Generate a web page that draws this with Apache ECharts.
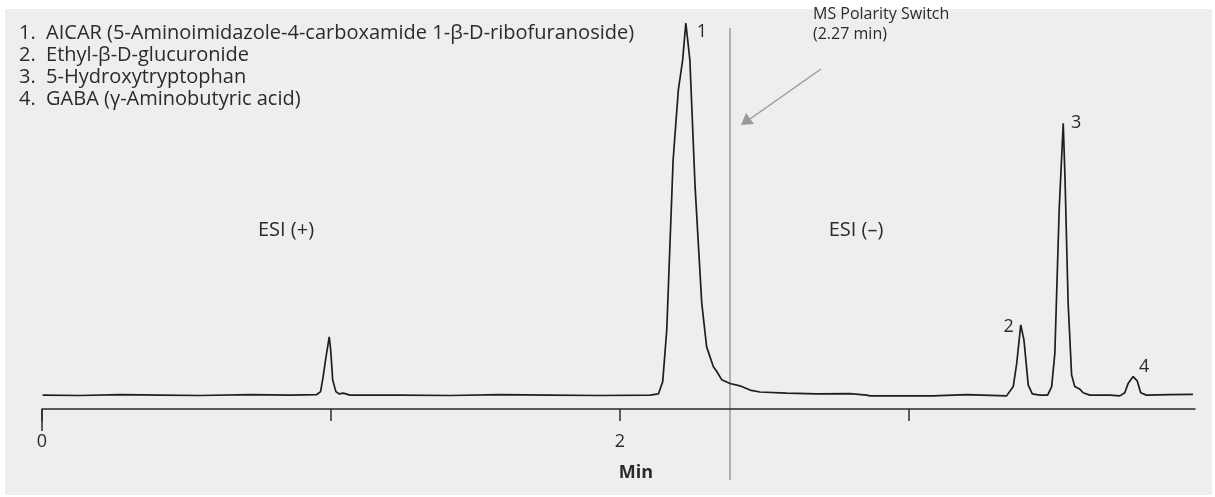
<!DOCTYPE html>
<html>
<head>
<meta charset="utf-8">
<script src="https://cdn.jsdelivr.net/npm/echarts@6/dist/echarts.min.js"></script>
<style>
  html, body { margin: 0; padding: 0; background: #fff; }
  #chart { width: 1215px; height: 497px; }
</style>
</head>
<body>
<div id="chart"></div>
<script>
// retention time (min) and relative signal (%)
var times = [0.002, 0.131, 0.270, 0.408, 0.547, 0.720, 0.858, 0.950, 0.964, 0.973, 0.982, 0.994, 0.999, 1.006, 1.017, 1.029, 1.043, 1.066,
  1.239, 1.412, 1.585, 1.758, 1.931, 2.104, 2.133, 2.148, 2.162, 2.184, 2.202, 2.217, 2.228, 2.242, 2.260, 2.283, 2.300, 2.323, 2.335, 2.352,
  2.381, 2.415, 2.450, 2.484, 2.577, 2.681, 2.796, 2.854, 2.865, 3.083, 3.200, 3.338, 3.361, 3.373, 3.387, 3.398, 3.413, 3.427, 3.453,
  3.480, 3.494, 3.505, 3.520, 3.534, 3.540, 3.551, 3.563, 3.574, 3.592, 3.603, 3.626, 3.696, 3.730, 3.747, 3.759, 3.776, 3.790, 3.802,
  3.822, 3.903, 3.983];
var signal = [3.6, 3.5, 3.7, 3.6, 3.5, 3.7, 3.6, 3.7, 4.5, 8.4, 13.1, 18.7, 15.3, 7.5, 4.5, 3.9, 4.1, 3.6,
  3.6, 3.5, 3.7, 3.6, 3.5, 3.6, 3.9, 7.1, 20.5, 64.5, 82.6, 90.4, 100, 90.4, 57.6, 27.5, 16.1, 11.0, 9.7, 7.6,
  6.6, 6.0, 4.9, 4.4, 4.1, 3.9, 4.0, 3.6, 3.4, 3.4, 3.7, 3.4, 5.8, 11.8, 21.8, 17.9, 6.2, 3.9, 3.6,
  3.6, 5.8, 14.4, 51.6, 74.0, 60.2, 27.4, 8.8, 5.8, 5.1, 4.2, 3.6, 3.6, 3.4, 4.2, 6.7, 8.4, 7.3, 4.2,
  3.6, 3.7, 3.8];
var tickValues = [0, 1, 2, 3];
var labelValues = [0, 2];
var peakNames = ['1', '2', '3', '4'];
var peakTimes = [2.228, 3.387, 3.534, 3.776];
var peakHeights = [100, 21.8, 74.0, 8.4];
var compounds = [
  '1.  AICAR (5-Aminoimidazole-4-carboxamide 1-\u03b2-D-ribofuranoside)',
  '2.  Ethyl-\u03b2-D-glucuronide',
  '3.  5-Hydroxytryptophan',
  '4.  GABA (\u03b3-Aminobutyric acid)'
];
var switchTime = 2.381;

var font = '"Open Sans", "Noto Sans", sans-serif';
var txt = '#2b2b2b';
var myChart = echarts.init(document.getElementById('chart'));

var option = {
  backgroundColor: '#fff',
  animation: false,
  grid: { left: 42, right: 20, top: 23, bottom: 88 },
  xAxis: {
    type: 'value',
    min: 0,
    max: 3.99,
    interval: 1,
    axisLine: { lineStyle: { color: txt, width: 1.5 } },
    axisTick: { length: 12, customValues: tickValues, lineStyle: { color: txt, width: 1.5 } },
    axisLabel: {
      margin: 24,
      color: txt,
      fontSize: 18,
      fontFamily: font,
      customValues: labelValues
    },
    splitLine: { show: false }
  },
  yAxis: { type: 'value', min: 0, max: 100, show: false },
  series: [{
    type: 'line',
    data: times.map(function (t, i) { return [t, signal[i]]; }),
    showSymbol: false,
    lineStyle: { color: '#1e1e1e', width: 1.7 },
    z: 5
  }]
};
myChart.setOption(option);

var graphics = [{
  type: 'rect', z: -10, silent: true,
  shape: { x: 5, y: 9, width: 1207, height: 486 },
  style: { fill: '#eeeeee' }
}];

// compound list
compounds.forEach(function (s, i) {
  graphics.push({
    type: 'text', x: 19, y: 33 + i * 22,
    style: { text: s, fill: txt, font: '20px ' + font, verticalAlign: 'middle' }
  });
});

// longer tick at zero
var p0 = myChart.convertToPixel({ gridIndex: 0 }, [0, 0]);
graphics.push({
  type: 'line', shape: { x1: p0[0], y1: 409, x2: p0[0], y2: 431 },
  style: { stroke: txt, lineWidth: 1.5 }
});

// polarity switch line
var ps = myChart.convertToPixel({ gridIndex: 0 }, [switchTime, 0]);
graphics.push({
  type: 'line', shape: { x1: ps[0], y1: 28, x2: ps[0], y2: 480 },
  style: { stroke: '#9a9a9a', lineWidth: 1.5 }
});
graphics.push({
  type: 'line', shape: { x1: 821, y1: 69, x2: 750, y2: 119 },
  style: { stroke: '#9a9a9a', lineWidth: 1.5 }
});
graphics.push({
  type: 'polygon', shape: { points: [[741, 125], [746, 113], [754, 124]] },
  style: { fill: '#9a9a9a' }
});
graphics.push({
  type: 'text', x: 813, y: 14,
  style: { text: 'MS Polarity Switch', fill: txt, font: '16px ' + font, verticalAlign: 'middle' }
});
graphics.push({
  type: 'text', x: 813, y: 34,
  style: { text: '(2.27 min)', fill: txt, font: '16px ' + font, verticalAlign: 'middle' }
});

// region labels
graphics.push({ type: 'text', x: 286, y: 230, style: { text: 'ESI (+)', fill: txt, font: '20px ' + font, align: 'center', verticalAlign: 'middle' } });
graphics.push({ type: 'text', x: 856, y: 230, style: { text: 'ESI (\u2013)', fill: txt, font: '20px ' + font, align: 'center', verticalAlign: 'middle' } });

// peak numbers
var offs = [[16, 9], [-12, 2], [13, 0], [11, -10]];
peakNames.forEach(function (n, i) {
  var p = myChart.convertToPixel({ gridIndex: 0 }, [peakTimes[i], peakHeights[i]]);
  graphics.push({
    type: 'text', x: p[0] + offs[i][0], y: p[1] + offs[i][1],
    style: { text: n, fill: txt, font: '18px ' + font, align: 'center', verticalAlign: 'middle' }
  });
});

// axis title
graphics.push({ type: 'text', x: 636, y: 473, style: { text: 'Min', fill: txt, font: 'bold 18px ' + font, align: 'center', verticalAlign: 'middle' } });

myChart.setOption({ graphic: graphics });
</script>
</body>
</html>
